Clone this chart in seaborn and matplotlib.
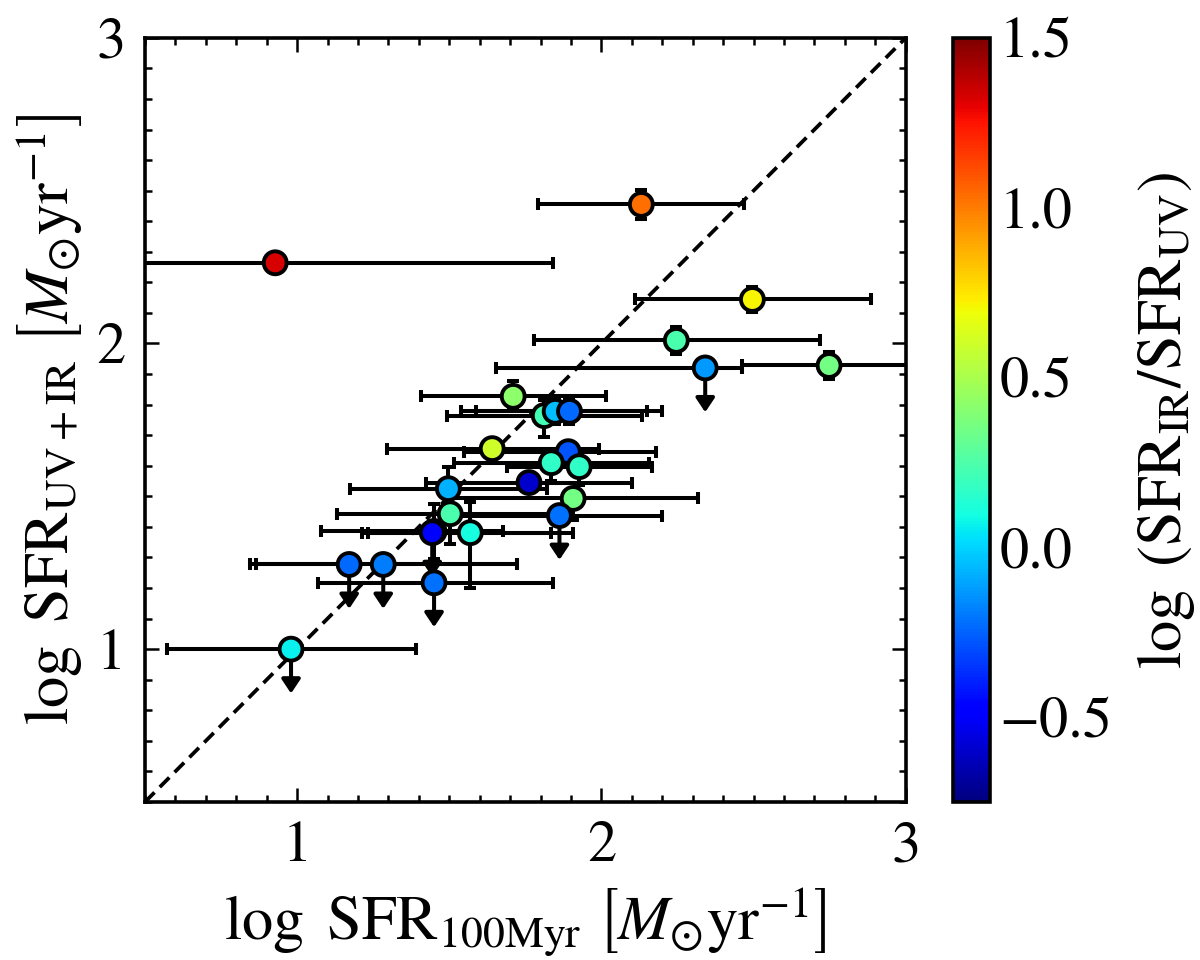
import numpy as np
import pandas as pd
import matplotlib
matplotlib.use('Agg')
import matplotlib.pyplot as plt
import seaborn as sns
from matplotlib.ticker import MultipleLocator

sns.set_theme(style='ticks')
plt.rcParams['font.family'] = ['STIXGeneral', 'DejaVu Serif']
plt.rcParams['mathtext.fontset'] = 'stix'
for key in ['text.color', 'axes.labelcolor', 'xtick.color', 'ytick.color', 'axes.edgecolor']:
    plt.rcParams[key] = 'black'

# --- data ---
sfr_100 = [0.928, 2.131, 2.496, 2.246, 2.341, 2.748, 1.710, 1.812, 1.848, 1.895,
           1.641, 1.891, 1.835, 1.927, 1.762, 1.497, 1.907, 1.503, 1.862, 1.450,
           1.444, 1.569, 1.171, 1.283, 1.450, 0.980]
sfr_100_lo = [0.45, 1.793, 2.111, 1.779, 1.654, 2.463, 1.408, 1.493, 1.539, 1.588,
              1.296, 1.550, 1.516, 1.690, 1.424, 1.174, 1.500, 1.131, 1.500, 1.079,
              1.213, 1.233, 0.845, 0.865, 1.069, 0.573]
sfr_100_hi = [1.842, 2.470, 2.887, 2.719, 2.463, 3.200, 2.016, 2.134, 2.150, 2.200,
              1.993, 2.180, 2.157, 2.167, 2.100, 1.820, 2.318, 1.840, 2.200, 1.675,
              1.835, 1.905, 1.723, 1.723, 1.841, 1.390]
sfr_uvir = [2.264, 2.455, 2.144, 2.010, 1.920, 1.928, 1.827, 1.764, 1.778, 1.778,
            1.656, 1.646, 1.610, 1.597, 1.545, 1.525, 1.493, 1.443, 1.437, 1.385,
            1.381, 1.381, 1.277, 1.277, 1.217, 1.000]
sfr_uvir_lo = [0.02, 0.047, 0.04, 0.045, 0.0, 0.045, 0.04, 0.07, 0.04, 0.04,
               0.02, 0.03, 0.06, 0.06, 0.03, 0.03, 0.07, 0.10, 0.0, 0.09,
               0.0, 0.18, 0.0, 0.0, 0.0, 0.0]
sfr_uvir_hi = [0.02, 0.047, 0.04, 0.045, 0.0, 0.045, 0.05, 0.05, 0.04, 0.04,
               0.02, 0.03, 0.03, 0.03, 0.03, 0.07, 0.03, 0.10, 0.0, 0.09,
               0.0, 0.10, 0.0, 0.0, 0.0, 0.0]
ir_uv_ratio = [1.33, 1.03, 0.71, 0.24, -0.13, 0.35, 0.42, 0.22, -0.05, -0.24,
               0.60, -0.28, 0.17, 0.17, -0.60, -0.08, 0.35, 0.24, -0.22, 0.25,
               -0.48, 0.10, -0.24, -0.19, -0.22, 0.06]
upper_limit = [0, 0, 0, 0, 1, 0, 0, 0, 0, 0,
               0, 0, 0, 0, 0, 0, 0, 0, 1, 0,
               1, 0, 1, 1, 1, 1]

df = pd.DataFrame({
    'x': sfr_100, 'x_lo': sfr_100_lo, 'x_hi': sfr_100_hi,
    'y': sfr_uvir, 'y_lo': sfr_uvir_lo, 'y_hi': sfr_uvir_hi,
    'ratio': ir_uv_ratio, 'ul': upper_limit,
})

vmin, vmax = -0.75, 1.5
fs = 21
fs_label = 22.5
jet = matplotlib.colormaps['jet']

fig = plt.figure(figsize=(6, 4.8), dpi=200)
ax = fig.add_axes([0.1208, 0.1646, 0.634, 0.796])
cax = fig.add_axes([0.794, 0.1646, 0.031, 0.796])

# one-to-one line
ax.plot([0.5, 3], [0.5, 3], ls=(0, (3.6, 2.0)), color='black', lw=1.35, zorder=1)

# error bars
ax.errorbar(df['x'], df['y'],
            xerr=[df['x'] - df['x_lo'], df['x_hi'] - df['x']],
            yerr=[df['y_lo'], df['y_hi']],
            fmt='none', ecolor='black', elinewidth=1.45, capsize=2.3, capthick=1.45,
            zorder=2)

# upper limit arrows
ul = df[df['ul'] == 1]
for _, r in ul.iterrows():
    ax.annotate('', xy=(r['x'], r['y'] - 0.145), xytext=(r['x'], r['y']),
                arrowprops=dict(arrowstyle='-|>,head_length=0.42,head_width=0.28',
                                color='black', lw=1.45, shrinkA=0, shrinkB=0,
                                mutation_scale=10),
                zorder=2)

sns.scatterplot(data=df, x='x', y='y', hue='ratio', palette=jet,
                hue_norm=(vmin, vmax), s=68, edgecolor='black', linewidth=1.4,
                legend=False, ax=ax, zorder=3)

ax.set_xlim(0.5, 3)
ax.set_ylim(0.5, 3)
ax.set_xticks([1, 2, 3])
ax.set_yticks([1, 2, 3])
ax.xaxis.set_minor_locator(MultipleLocator(0.1))
ax.yaxis.set_minor_locator(MultipleLocator(0.1))
ax.tick_params(which='both', direction='in', top=True, right=True,
               labelsize=fs, width=0.9, pad=7)
ax.tick_params(which='major', length=5)
ax.tick_params(which='minor', length=2.5)
for s in ax.spines.values():
    s.set_linewidth(1.3)

ax.set_xlabel(r'$\log\ {\rm SFR_{100Myr}}\ \left[M_{\odot}{\rm yr}^{-1}\right]$', fontsize=fs_label)
ax.set_ylabel(r'$\log\ {\rm SFR_{UV+IR}}\ \left[M_{\odot}{\rm yr}^{-1}\right]$', fontsize=fs_label)

sm = plt.cm.ScalarMappable(cmap=jet, norm=plt.Normalize(vmin, vmax))
cb = fig.colorbar(sm, cax=cax)
cb.set_ticks([-0.5, 0.0, 0.5, 1.0, 1.5])
cb.ax.tick_params(direction='in', labelsize=fs, width=0.9, length=5)
cb.outline.set_linewidth(1.3)
cb.set_label(r'$\log\ \left({\rm SFR_{IR}/SFR_{UV}}\right)$', fontsize=fs_label, labelpad=8)

fig.savefig('out.png', dpi=200)
